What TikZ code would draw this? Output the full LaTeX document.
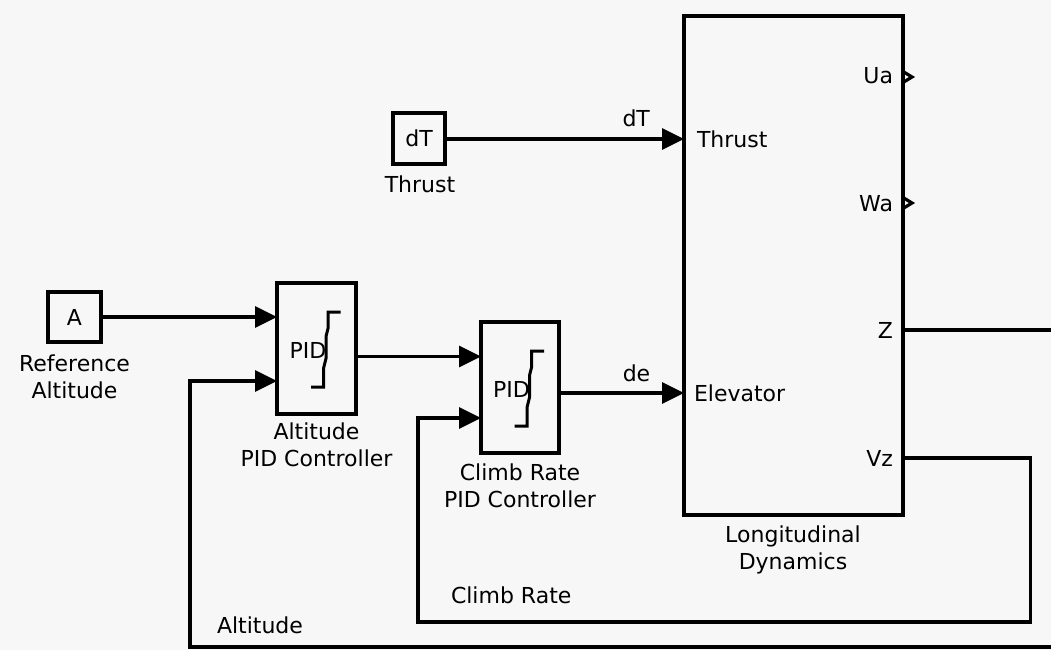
\documentclass[tikz,border=0pt]{standalone}
\usepackage{fontspec}
\setmainfont{DejaVu Sans}
\usetikzlibrary{arrows.meta}
\definecolor{bgc}{HTML}{F7F7F7}
\begin{document}
\begin{tikzpicture}[x=1pt,y=-1pt,
  every node/.style={font=\fontsize{22}{27}\selectfont, inner sep=0pt, outer sep=0pt},
  blk/.style={draw, line width=3.3pt, fill=bgc},
  lbl/.style={align=center, anchor=north},
  sig/.style={line width=3.4pt, -{Triangle[length=22pt,width=21pt]}},
  pidsym/.pic={
    \node[anchor=base west] at (-27,9.5) {PID};
    \draw[line width=3pt] (24,-36.5) -- (11.5,-36.5) -- (11.5,-20) -- (9.5,-12) -- (9.5,10) -- (7,20) -- (7,38.5) -- (-5.5,38.5);
  }]
\clip (0,0) rectangle (1051,650);
\fill[bgc] (0,0) rectangle (1051,650);

% blocks
\node[blk, minimum width=53pt, minimum height=50pt] (ref) at (74.5,317) {A};
\node[blk, minimum width=52pt, minimum height=51pt] (thr) at (419,138.5) {dT};
\node[blk, minimum width=79pt, minimum height=131pt] (alt) at (316.5,348.5) {};
\node[blk, minimum width=78pt, minimum height=131pt] (clm) at (520,387.5) {};
\node[blk, minimum width=219pt, minimum height=499pt] (dyn) at (793.5,265.5) {};
\pic at (alt.center) {pidsym};
\pic at (clm.center) {pidsym};

% block labels
\node[lbl] (refl) at (74.5,355) {Reference\\Altitude};
\node[lbl] (thrl) at (420,176) {Thrust};
\node[lbl] (altl) at (316.5,423) {Altitude\\PID Controller};
\node[lbl] (clml) at (520,464) {Climb Rate\\PID Controller};
\node[lbl] (dynl) at (793,526) {Longitudinal\\Dynamics};

% ports
\coordinate (altin1) at (277,317);
\coordinate (altin2) at (277,381);
\coordinate (altout) at (356,356.5);
\coordinate (clin1) at (481,356.5);
\coordinate (clin2) at (481,418);
\coordinate (clout) at (559,393);
\coordinate (dynT) at (684,139);
\coordinate (dynE) at (684,393);
\coordinate (dynUa) at (903,77);
\coordinate (dynWa) at (903,203);
\coordinate (dynZ) at (903,330);
\coordinate (dynVz) at (903,458);

% port names
\node[anchor=base west] (pT) at (697,147) {Thrust};
\node[anchor=base west] (pE) at (694,401.5) {Elevator};
\node[anchor=base east] (pUa) at (893,83.5) {Ua};
\node[anchor=base east] (pWa) at (893,211.5) {Wa};
\node[anchor=base east] (pZ) at (893,338) {Z};
\node[anchor=base east] (pVz) at (893,466.5) {Vz};

% unconnected outport markers
\draw[line width=3.2pt, line join=miter] ([yshift=5.5pt]dynUa) -- ++(9,5.5) -- ++(-9,5.5);
\draw[line width=3.2pt, line join=miter] ([yshift=5.5pt]dynWa) -- ++(9,5.5) -- ++(-9,5.5);

% signals
\draw[sig] (thr.east |- dynT) -- (dynT) node[pos=0.8, anchor=base, yshift=13pt] (dTl) {dT};
\draw[sig] (ref.east) -- (altin1);
\draw[sig] (altout) -- (clin1);
\draw[sig] (clout) -- (dynE) node[pos=0.62, anchor=base, yshift=12pt] (del) {de};
\draw[sig] (dynVz) -- (1030.5,458) -- (1030.5,622) -- (418,622) -- (418,418) -- (clin2);
\draw[sig] (dynZ) -- (1070,330) -- (1070,647) -- (190,647) -- (190,381) -- (altin2);

% feedback labels
\node[anchor=base west] (crl) at (451,603) {Climb Rate};
\node[anchor=base west] (all) at (217,633) {Altitude};
\end{tikzpicture}
\end{document}
